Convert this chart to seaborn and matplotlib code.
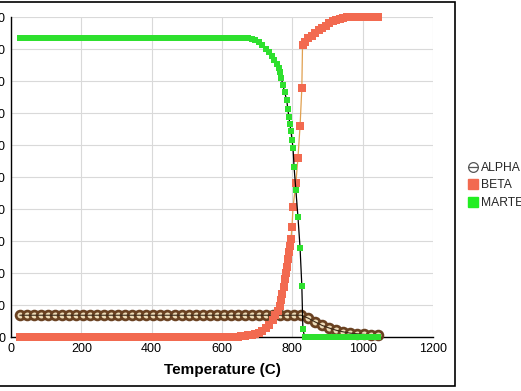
import matplotlib
matplotlib.use("Agg")
import matplotlib.pyplot as plt
import seaborn as sns
from matplotlib.lines import Line2D
from matplotlib.patches import Rectangle
from matplotlib.ticker import MultipleLocator

# --- data (phase fraction %, temperature in C) ---
alpha_temp = [25, 45, 65, 85, 105, 125, 145, 165, 185, 205, 225, 245, 265, 285, 305, 325, 345,
              365, 385, 405, 425, 445, 465, 485, 505, 525, 545, 565, 585, 605, 625, 645, 665,
              685, 705, 725, 745, 765, 785, 805, 825,
              845, 865, 885, 905, 925, 945, 965, 985, 1005, 1025, 1045]
alpha_pct = [6.8, 6.8, 6.8, 6.8, 6.8, 6.8, 6.8, 6.8, 6.8, 6.8, 6.8, 6.8, 6.8, 6.8, 6.8, 6.8, 6.8,
             6.8, 6.8, 6.8, 6.8, 6.8, 6.8, 6.8, 6.8, 6.8, 6.8, 6.8, 6.8, 6.8, 6.8, 6.8, 6.8,
             6.8, 6.8, 6.8, 6.8, 6.8, 6.8, 6.8, 6.8,
             5.9, 4.7, 3.6, 2.8, 2.1, 1.6, 1.2, 1.0, 0.8, 0.7, 0.6]

beta_temp = [25, 35, 45, 55, 65, 75, 85, 95, 105, 115, 125, 135, 145, 155, 165, 175, 185, 195,
             205, 215, 225, 235, 245, 255, 265, 275, 285, 295, 305, 315, 325, 335, 345, 355,
             365, 375, 385, 395, 405, 415, 425, 435, 445, 455, 465, 475, 485, 495, 505, 515,
             525, 535, 545, 555, 565, 575, 585, 595, 605, 615, 625, 635, 645,
             655, 665, 675, 685, 695, 705, 715, 725, 735, 745, 752, 760, 765, 769, 772, 775,
             778, 781, 784, 787, 790, 793, 796, 799, 802, 810, 816, 822, 827, 829,
             835, 845, 855, 865, 875, 885, 895, 905, 915, 925, 935, 945, 955,
             965, 975, 985, 995, 1005, 1015, 1025, 1035, 1045]
beta_pct = [0.0, 0.0, 0.0, 0.0, 0.0, 0.0, 0.0, 0.0, 0.0, 0.0, 0.0, 0.0, 0.0, 0.0, 0.0, 0.0, 0.0, 0.0,
            0.0, 0.0, 0.0, 0.0, 0.0, 0.0, 0.0, 0.0, 0.0, 0.0, 0.0, 0.0, 0.0, 0.0, 0.0, 0.0,
            0.0, 0.0, 0.0, 0.0, 0.0, 0.0, 0.0, 0.0, 0.0, 0.0, 0.0, 0.0, 0.0, 0.0, 0.0, 0.0,
            0.0, 0.0, 0.0, 0.0, 0.0, 0.0, 0.0, 0.0, 0.0, 0.0, 0.0, 0.0, 0.0,
            0.2, 0.3, 0.5, 0.7, 1.0, 1.4, 2.0, 2.8, 3.9, 5.4, 6.8, 8.2, 9.6, 11.5, 13.5, 15.6,
            18.0, 20.0, 22.0, 24.3, 26.6, 28.5, 30.5, 34.4, 40.6, 48.0, 56.0, 66.0, 77.8, 91.3,
            92.2, 93.3, 94.2, 95.0, 95.8, 96.6, 97.3, 98.0, 98.6, 99.1, 99.5, 99.8, 100.0,
            100.0, 100.0, 100.0, 100.0, 100.0, 100.0, 100.0, 100.0, 100.0]

mart_temp = [25, 35, 45, 55, 65, 75, 85, 95, 105, 115, 125, 135, 145, 155, 165, 175, 185, 195,
             205, 215, 225, 235, 245, 255, 265, 275, 285, 295, 305, 315, 325, 335, 345, 355,
             365, 375, 385, 395, 405, 415, 425, 435, 445, 455, 465, 475, 485, 495, 505, 515,
             525, 535, 545, 555, 565, 575, 585, 595, 605, 615, 625, 635, 645, 655, 665,
             675, 685, 695, 705, 715, 725, 735, 742, 749, 756, 761, 765, 769, 773, 778, 784,
             787, 790, 793, 796, 799, 802, 805, 810, 816, 822, 827, 830,
             835, 845, 855, 865, 875, 885, 895, 905, 915, 925, 935, 945, 955, 965, 975, 985,
             995, 1005, 1015, 1025, 1035, 1045]
mart_pct = [93.5, 93.5, 93.5, 93.5, 93.5, 93.5, 93.5, 93.5, 93.5, 93.5, 93.5, 93.5, 93.5, 93.5,
            93.5, 93.5, 93.5, 93.5, 93.5, 93.5, 93.5, 93.5, 93.5, 93.5, 93.5, 93.5, 93.5, 93.5,
            93.5, 93.5, 93.5, 93.5, 93.5, 93.5, 93.5, 93.5, 93.5, 93.5, 93.5, 93.5, 93.5, 93.5,
            93.5, 93.5, 93.5, 93.5, 93.5, 93.5, 93.5, 93.5, 93.5, 93.5, 93.5, 93.5, 93.5, 93.5,
            93.5, 93.5, 93.5, 93.5, 93.5, 93.5, 93.5, 93.5, 93.5,
            93.4, 93.2, 92.8, 92.2, 91.2, 90.1, 89.0, 87.9, 86.6, 85.4, 84.0, 82.8, 80.8, 78.8,
            76.6, 74.0, 71.4, 68.8, 66.6, 64.4, 61.7, 59.0, 53.0, 46.0, 37.5, 27.8, 16.0, 2.5,
            0.0, 0.0, 0.0, 0.0, 0.0, 0.0, 0.0, 0.0, 0.0, 0.0, 0.0, 0.0, 0.0, 0.0, 0.0, 0.0,
            0.0, 0.0, 0.0, 0.0, 0.0, 0.0]

series_names = ["ALPHA", "BETA", "MARTENSITE"]
x_ticks = [0, 200, 400, 600, 800, 1000, 1200]
y_ticks = [0, 10, 20, 30, 40, 50, 60, 70, 80, 90, 100]
x_label = "Temperature (C)"

# colours
alpha_edge = "#6a4222"
alpha_face = "#eedcb8"
beta_red = "#f26a50"
beta_line = "#e0a050"
mart_green = "#2ee02e"

sns.set_theme(style="white")
plt.rcParams["font.family"] = ["Liberation Sans", "DejaVu Sans"]

fig = plt.figure(figsize=(5.21, 3.91), dpi=100)
ax = fig.add_axes([11 / 521, 54 / 391, 422 / 521, 320 / 391])

# ALPHA: brown rings with a dark line through them
sns.scatterplot(x=alpha_temp, y=alpha_pct, ax=ax, marker="o", s=40, color=alpha_face,
                edgecolor=alpha_edge, linewidth=2.0, zorder=3, clip_on=False)
sns.lineplot(x=alpha_temp, y=alpha_pct, ax=ax, color="#3a2a1a", linewidth=0.8,
             errorbar=None, zorder=4)

# BETA: red squares joined by a thin orange line
sns.lineplot(x=beta_temp, y=beta_pct, ax=ax, color=beta_line, linewidth=0.9,
             errorbar=None, zorder=5)
sns.scatterplot(x=beta_temp, y=beta_pct, ax=ax, marker="s", s=30, color=beta_red,
                linewidth=0, zorder=6, clip_on=False)

# MARTENSITE: small green dots joined by a black line
sns.lineplot(x=mart_temp, y=mart_pct, ax=ax, color="black", linewidth=0.9,
             errorbar=None, zorder=7)
sns.scatterplot(x=mart_temp, y=mart_pct, ax=ax, marker="s", s=15, color=mart_green,
                linewidth=0, zorder=8, clip_on=False)

ax.set_xlim(0, 1200)
ax.set_ylim(0, 100)
ax.set_xticks(x_ticks)
ax.set_yticks(y_ticks)
ax.xaxis.set_minor_locator(MultipleLocator(100))
ax.yaxis.set_minor_locator(MultipleLocator(5))
ax.grid(True, which="major", color="#d9d9d9", linewidth=0.8)
ax.set_axisbelow(True)
for side in ["top", "right"]:
    ax.spines[side].set_visible(False)
for side in ["left", "bottom"]:
    ax.spines[side].set_color("black")
    ax.spines[side].set_linewidth(1.0)
ax.tick_params(which="major", direction="inout", length=6, width=0.8, color="black",
               labelsize=9, labelcolor="black", pad=1)
ax.tick_params(which="minor", direction="inout", length=5, width=0.8, color="black")
ax.set_xlabel(x_label, fontsize=11, fontweight="bold", labelpad=6, color="black")
ax.set_ylabel("")

# outer frame (left edge falls outside the picture)
fig.add_artist(Rectangle((-0.02, 5 / 391), 0.02 + 455 / 521, 384 / 391,
                         transform=fig.transFigure, fill=False, edgecolor="black", linewidth=1.2))

handles = [
    Line2D([], [], color="#555555", linewidth=0.9, marker="o", markersize=7,
           markerfacecolor="none", markeredgecolor="#555555", markeredgewidth=0.9),
    Line2D([], [], linestyle="none", marker="s", markersize=7, color=beta_red),
    Line2D([], [], linestyle="none", marker="s", markersize=7, color="#22ee22"),
]
fig.legend(handles, series_names, loc="upper left", bbox_to_anchor=(468 / 521, 1 - 162 / 391),
           frameon=False, fontsize=8.7, handlelength=0.8, handletextpad=0.25,
           labelspacing=0.45, borderaxespad=0, borderpad=0)

fig.savefig("out.png", dpi=100)
plt.close(fig)
